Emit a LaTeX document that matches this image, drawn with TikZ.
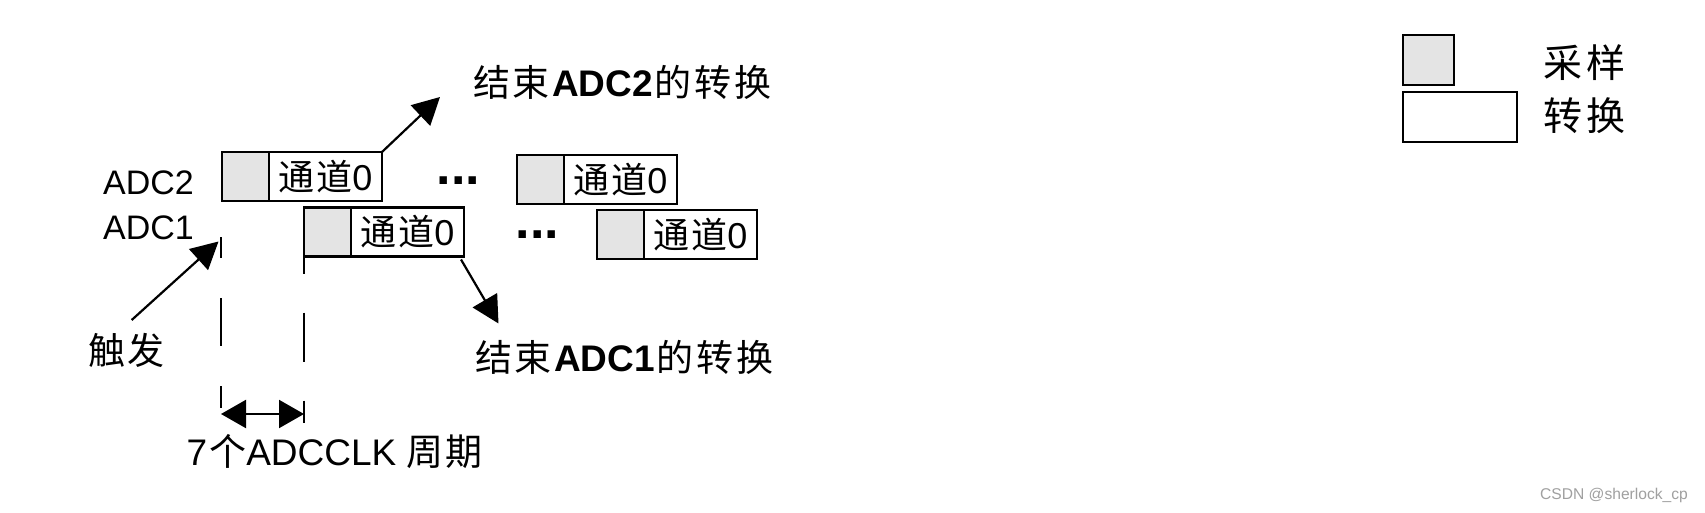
\documentclass[tikz,border=0pt]{standalone}
\usepackage{fontspec}
\setmainfont{Liberation Sans}
\newfontfamily\cjk{Noto Sans CJK SC}
\usetikzlibrary{arrows.meta,calc}
\definecolor{sgray}{RGB}{228,228,228}
\definecolor{wmgray}{RGB}{160,160,160}
\begin{document}
\begin{tikzpicture}[x=1pt,y=-1pt,
  txt/.style={inner sep=0pt, font=\fontsize{37}{40}\selectfont},
  lab/.style={inner sep=0pt, font=\fontsize{34}{38}\selectfont},
  samp/.style={draw, line width=2.7pt, fill=sgray, minimum width=47pt, minimum height=49pt, inner sep=0pt, outer sep=0pt},
  conv/.style={draw, line width=2.7pt, fill=white, minimum width=113pt, minimum height=49pt, inner sep=0pt, outer sep=0pt, font=\fontsize{36}{40}\selectfont},
  dots/.style={inner sep=0pt, font=\fontsize{52}{56}\selectfont\bfseries},
  arr/.style={line width=2.2pt, -{Triangle[length=27pt,width=28pt]}},
  dsh/.style={line width=2.8pt}]
\useasboundingbox (0,0) rectangle (1705,513);
\fill[white] (0,0) rectangle (1705,513);

% ADC2 row
\node[lab, anchor=base west] (l2) at (103,195) {ADC2};
\node[samp, anchor=west] (s2a) at (222,176.5) {};
\node[conv, anchor=west] (c2a) at (s2a.east) {{\cjk 通\kern2pt 道}0};
\node[dots, anchor=base west] (d2) at (436.5,185) {...};
\node[samp, anchor=west] (s2b) at (517,179.5) {};
\node[conv, anchor=west] (c2b) at (s2b.east) {{\cjk 通\kern2pt 道}0};

% ADC1 row
\node[lab, anchor=base west] (l1) at (103,240) {ADC1};
\node[samp, anchor=west] (s1a) at (304,232) {};
\node[conv, anchor=west] (c1a) at (s1a.east) {{\cjk 通\kern2pt 道}0};
\node[dots, anchor=base west] (d1) at (515.5,238) {...};
\node[samp, anchor=west] (s1b) at (597,234.5) {};
\node[conv, anchor=west] (c1b) at (s1b.east) {{\cjk 通\kern2pt 道}0};

% end-of-conversion labels and arrows
\node[txt, anchor=base west] (e2) at (473,97) {{\cjk 结\kern2pt 束}\kern3pt\textbf{ADC2}\kern2pt{\cjk 的\kern3pt 转\kern3pt 换}};
\node[txt, anchor=base west] (e1) at (475,371) {{\cjk 结\kern2pt 束}\kern3pt\textbf{ADC1}\kern2pt{\cjk 的\kern3pt 转\kern3pt 换}};
\coordinate (e2tip) at (440,97);
\coordinate (e1tip) at (498.5,323.5);
\draw[arr] (c2a.north east) -- (e2tip);
\draw[arr] ($(c1a.south east)+(-3,3)$) -- (e1tip);

% trigger
\node[txt, anchor=base west] (trg) at (88,364.5) {{\cjk 触\kern2pt 发}};
\coordinate (trgstart) at (131.7,320);
\coordinate (trgtip) at (218.5,241.5);
\draw[arr] (trgstart) -- (trgtip);

% dashed timing lines
\coordinate (ltop) at (221,237);
\coordinate (lbot) at (221,408);
\draw[dsh, dash pattern=on 48pt off 40pt, dash phase=27pt] (ltop) -- (lbot);
\coordinate (rbot) at (s1a.south west |- 0,423);
\draw[dsh, dash pattern=on 49pt off 39pt, dash phase=32pt] (s1a.south west) -- (rbot);

% 7 ADCCLK
\coordinate (al) at (221,414);
\coordinate (ar) at (s1a.south west |- al);
\draw[line width=2.2pt, {Triangle[length=25pt,width=28pt]}-{Triangle[length=25pt,width=28pt]}] (al) -- (ar);
\node[txt, anchor=base west] (clk) at (186.5,465) {7\kern2pt{\cjk 个}ADCCLK {\cjk 周\kern2pt 期}};

% legend
\node[samp, minimum width=51pt, minimum height=50pt, anchor=north west] (lgs) at (1403,35) {};
\node[conv, minimum width=114pt, minimum height=50pt, anchor=north west] (lgc) at (1403,92) {};
\node[txt, font=\fontsize{39}{42}\selectfont, anchor=base west] (lgst) at (1543,77.5) {{\cjk 采\kern4pt 样}};
\node[txt, font=\fontsize{39}{42}\selectfont, anchor=base west] (lgct) at (1543,130.5) {{\cjk 转\kern4pt 换}};

% watermark
\node[inner sep=0pt, anchor=base, font=\fontsize{15.6}{18}\selectfont, text=wmgray] (wm) at (1614,499) {CSDN @sherlock\_cp};
\end{tikzpicture}
\end{document}
